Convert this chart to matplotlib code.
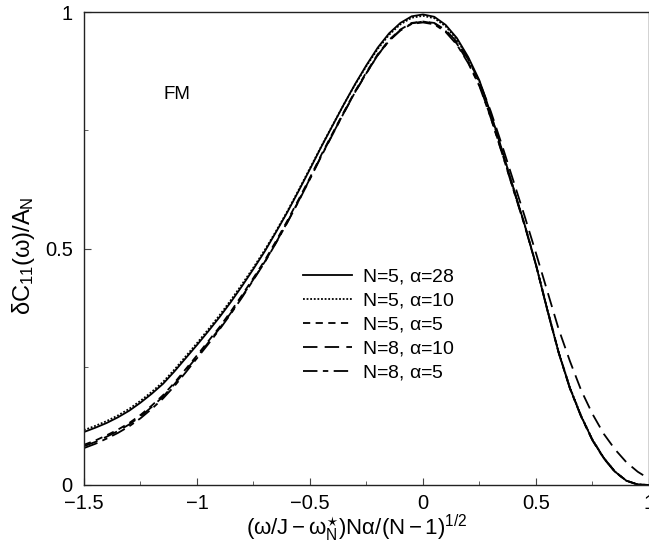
import matplotlib
matplotlib.use("Agg")
import matplotlib.pyplot as plt
import numpy as np
from matplotlib.ticker import MultipleLocator

plt.rcParams["font.family"] = ["Liberation Sans", "DejaVu Sans"]
plt.rcParams["mathtext.fontset"] = "custom"
plt.rcParams["mathtext.rm"] = "Liberation Sans"
plt.rcParams["mathtext.it"] = "Liberation Sans"
plt.rcParams["mathtext.bf"] = "Liberation Sans:bold"

# scaled frequency, shared by all curves
x_scaled = [
    -1.50, -1.45, -1.40, -1.35, -1.30, -1.25, -1.20, -1.15, -1.10, -1.05,
    -1.00, -0.95, -0.90, -0.85, -0.80, -0.75, -0.70, -0.65, -0.60, -0.55,
    -0.50, -0.45, -0.40, -0.35, -0.30, -0.25, -0.20, -0.15, -0.10, -0.05,
    0.00, 0.05, 0.10, 0.15, 0.20, 0.25, 0.30, 0.35, 0.40, 0.45,
    0.50, 0.55, 0.60, 0.65, 0.70, 0.75, 0.80, 0.85, 0.90, 0.95, 1.00,
]

n5_a28 = [
    0.112, 0.121, 0.131, 0.143, 0.157, 0.174, 0.193, 0.214, 0.240, 0.268,
    0.296, 0.325, 0.355, 0.387, 0.421, 0.457, 0.494, 0.535, 0.577, 0.622,
    0.668, 0.715, 0.760, 0.805, 0.848, 0.888, 0.925, 0.955, 0.977, 0.991,
    0.995, 0.990, 0.973, 0.945, 0.905, 0.855, 0.785, 0.708, 0.628, 0.550,
    0.465, 0.370, 0.280, 0.205, 0.145, 0.095, 0.057, 0.028, 0.009, 0.001, 0.000,
]
n5_a10 = [
    0.116, 0.125, 0.135, 0.147, 0.161, 0.178, 0.197, 0.218, 0.244, 0.272,
    0.300, 0.329, 0.359, 0.391, 0.425, 0.460, 0.497, 0.537, 0.579, 0.624,
    0.670, 0.716, 0.761, 0.805, 0.847, 0.886, 0.922, 0.952, 0.974, 0.988,
    0.992, 0.987, 0.970, 0.942, 0.902, 0.852, 0.783, 0.707, 0.628, 0.550,
    0.466, 0.372, 0.282, 0.206, 0.146, 0.096, 0.057, 0.028, 0.009, 0.001, 0.000,
]
n5_a5 = [
    0.085, 0.094, 0.105, 0.117, 0.131, 0.148, 0.168, 0.190, 0.216, 0.245,
    0.274, 0.304, 0.334, 0.367, 0.402, 0.438, 0.475, 0.516, 0.559, 0.604,
    0.650, 0.698, 0.744, 0.789, 0.833, 0.873, 0.911, 0.941, 0.963, 0.977,
    0.980, 0.976, 0.960, 0.933, 0.894, 0.845, 0.777, 0.702, 0.625, 0.550,
    0.466, 0.371, 0.281, 0.205, 0.145, 0.095, 0.057, 0.028, 0.009, 0.001, 0.000,
]
n8_a10 = [
    0.082, 0.091, 0.102, 0.114, 0.128, 0.145, 0.165, 0.187, 0.213, 0.242,
    0.271, 0.301, 0.331, 0.364, 0.399, 0.435, 0.472, 0.513, 0.556, 0.601,
    0.648, 0.696, 0.742, 0.787, 0.831, 0.871, 0.909, 0.940, 0.962, 0.976,
    0.980, 0.977, 0.962, 0.937, 0.900, 0.853, 0.790, 0.718, 0.643, 0.568,
    0.490, 0.410, 0.330, 0.262, 0.200, 0.150, 0.108, 0.075, 0.048, 0.028, 0.013,
]
n8_a5 = [
    0.078, 0.087, 0.098, 0.110, 0.124, 0.141, 0.161, 0.183, 0.209, 0.238,
    0.268, 0.298, 0.329, 0.362, 0.397, 0.434, 0.471, 0.512, 0.555, 0.600,
    0.647, 0.695, 0.741, 0.787, 0.831, 0.871, 0.909, 0.939, 0.961, 0.975,
    0.978, 0.974, 0.958, 0.931, 0.892, 0.843, 0.776, 0.701, 0.624, 0.548,
    0.465, 0.370, 0.280, 0.204, 0.144, 0.094, 0.056, 0.027, 0.009, 0.001, 0.000,
]

series = [
    (n5_a28, r"N=5, $\alpha$=28", "-"),
    (n5_a10, r"N=5, $\alpha$=10", (0, (1, 1))),
    (n5_a5, r"N=5, $\alpha$=5", (0, (4, 3))),
    (n8_a10, r"N=8, $\alpha$=10", (0, (8, 4))),
    (n8_a5, r"N=8, $\alpha$=5", (0, (8, 3, 3, 3))),
]

fig = plt.figure(figsize=(6.49, 5.48), dpi=100)
ax = fig.add_axes([0.1294, 0.115, 0.8706, 0.863])

for values, label, style in series:
    ax.plot(x_scaled, values, color="black", linewidth=1.3, linestyle=style, label=label)

ax.set_xlim(-1.5, 1.0)
ax.set_ylim(0, 1.0)
ax.xaxis.set_major_locator(MultipleLocator(0.5))
ax.xaxis.set_minor_locator(MultipleLocator(0.25))
ax.yaxis.set_major_locator(MultipleLocator(0.5))
ax.yaxis.set_minor_locator(MultipleLocator(0.25))
ax.xaxis.set_major_formatter(plt.FuncFormatter(lambda v, p: f"{v:g}".replace("-", "\u2212")))
ax.yaxis.set_major_formatter(plt.FuncFormatter(lambda v, p: f"{v:g}"))
ax.tick_params(which="both", direction="in", top=False, right=False, labelsize=14.5, color="#444444")
ax.tick_params(axis="x", which="major", length=5, pad=6.5)
ax.tick_params(axis="y", which="major", length=5, pad=8)
ax.tick_params(which="minor", length=3)
for spine in ax.spines.values():
    spine.set_linewidth(1.0)
    spine.set_color("#222222")

ax.set_xlabel(r"$(\omega/J-\omega^{\star}_{N})N\alpha/(N-1)^{1/2}$", fontsize=16)
ax.xaxis.set_label_coords(0.483, -0.058)
ax.set_ylabel(r"$\delta C_{11}(\omega)/A_{N}$", fontsize=17)
ax.yaxis.set_label_coords(-0.083, 0.484)

ax.text(-1.15, 0.826, "FM", fontsize=13.5, ha="left", va="center")

ax.legend(
    loc="upper left",
    bbox_to_anchor=(0.388, 0.46),
    frameon=False,
    fontsize=14,
    handlelength=2.5,
    handletextpad=0.5,
    labelspacing=0.25,
    borderpad=0,
    borderaxespad=0,
)

fig.savefig("out.png", dpi=100)
